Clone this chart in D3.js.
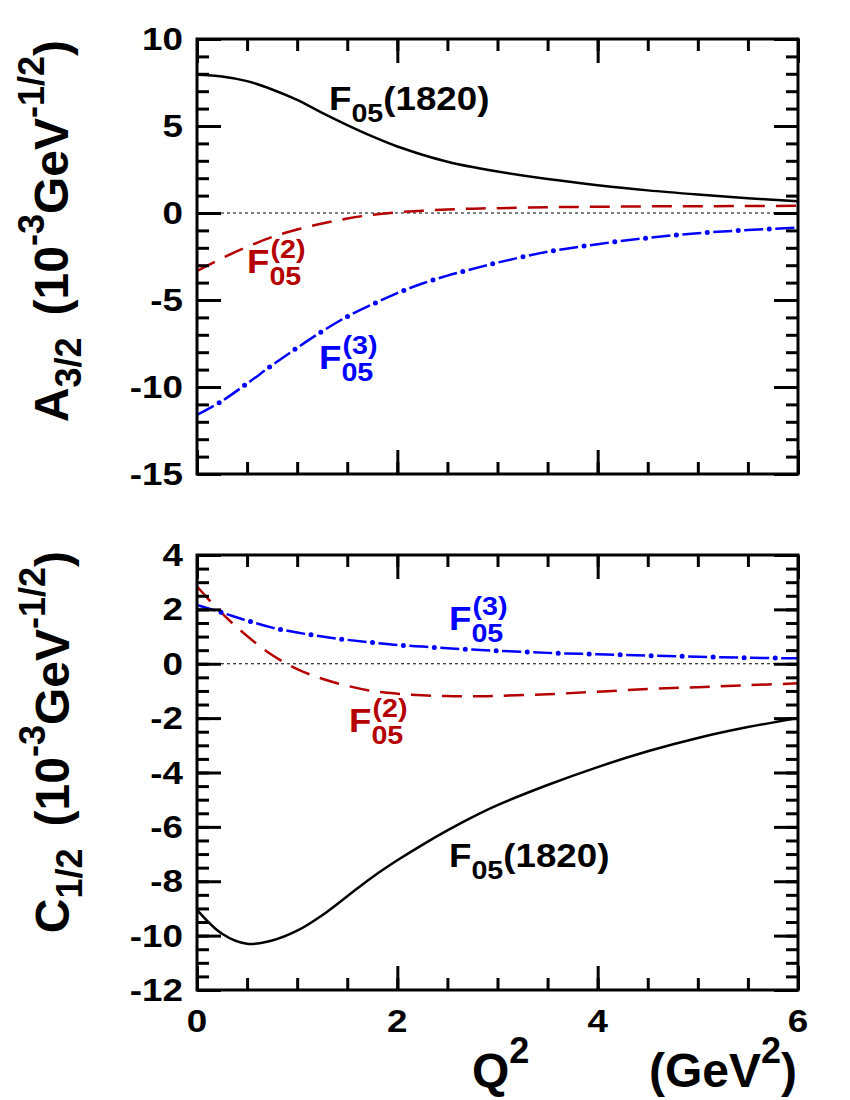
<!DOCTYPE html>
<html>
<head>
<meta charset="utf-8">
<script src="https://cdn.jsdelivr.net/npm/d3@7"></script>
<style>
  body { margin: 0; background: #fff; }
  svg { display: block; }
  text { font-family: "Liberation Sans", Arial, Helvetica, sans-serif; font-weight: bold; }
</style>
</head>
<body>
<svg id="vis" width="850" height="1100"></svg>
<script>
// Q^2 grid (GeV^2) the curves were read at
var q2 = [0, 0.25, 0.5, 0.75, 1, 1.25, 1.5, 1.75, 2, 2.25, 2.5, 2.75, 3, 3.5, 4, 4.5, 5, 5.5, 6];

// A_{3/2} panel (10^-3 GeV^-1/2)
var a32Full = [7.95, 7.85, 7.58, 7.1, 6.5, 5.75, 5.05, 4.4, 3.82, 3.35, 2.95, 2.64, 2.38, 1.95, 1.6, 1.3, 1.06, 0.85, 0.67];
var a32F2   = [-3.33, -2.6, -1.95, -1.38, -0.95, -0.6, -0.32, -0.1, 0.04, 0.13, 0.2, 0.25, 0.28, 0.33, 0.36, 0.38, 0.39, 0.40, 0.41];
var a32F3   = [-11.6, -10.8, -9.8, -8.75, -7.75, -6.8, -5.95, -5.25, -4.6, -4.05, -3.6, -3.22, -2.85, -2.23, -1.79, -1.43, -1.16, -0.98, -0.84];

// C_{1/2} panel (10^-3 GeV^-1/2)
var c12Full = [-9.05, -9.93, -10.3, -10.18, -9.82, -9.25, -8.55, -7.85, -7.23, -6.66, -6.13, -5.64, -5.2, -4.46, -3.8, -3.22, -2.73, -2.33, -2.0];
var c12F2   = [2.84, 1.85, 1.02, 0.32, -0.2, -0.55, -0.81, -1.0, -1.1, -1.16, -1.19, -1.2, -1.18, -1.12, -1.03, -0.93, -0.86, -0.79, -0.72];
var c12F3   = [2.16, 1.88, 1.59, 1.33, 1.15, 1.0, 0.88, 0.78, 0.69, 0.63, 0.57, 0.52, 0.48, 0.40, 0.35, 0.30, 0.26, 0.22, 0.20];

// axis ticks
var xMajor = [0, 2, 4, 6];
var xMinor = d3.range(0, 6.01, 0.5);
var a32Major = [-15, -10, -5, 0, 5, 10];
var a32Minor = d3.range(-15, 10.01, 1);
var c12Major = [-12, -10, -8, -6, -4, -2, 0, 2, 4];
var c12Minor = d3.range(-12, 4.01, 0.5);

var RED = '#b40000', BLUE = '#0000ff';

var vis = d3.select('#vis');
var left = 197, right = 798;
var x = d3.scaleLinear().domain([0, 6]).range([left, right]);

// rich text: parts = [{t, sub|sup}], drawn in a horizontally scaled local frame
function rich(parent, tx, ty, parts, size, fill, anchor, rot, sx) {
  var t = parent.append('text')
    .attr('transform', 'translate(' + tx + ',' + ty + ')' + (rot ? ' rotate(' + rot + ')' : '') + ' scale(' + (sx || 1) + ',1)')
    .attr('font-size', size).attr('fill', fill).attr('text-anchor', anchor || 'start');
  var shift = 0;
  parts.forEach(function(p) {
    var want = p.sub ? 0.28 * size : p.sup ? -0.5 * size : 0;
    t.append('tspan').attr('dy', want - shift).attr('dx', p.dx || 0)
      .attr('font-size', (p.sub || p.sup) ? size * 0.75 : size).text(p.t);
    shift = want;
  });
  return t;
}

// F_05 label with stacked sub/superscript
function fLabel(parent, tx, ty, sup, tail, fill) {
  var size = 34, sx = 1.08;
  function piece(px, py, s, str) {
    return parent.append('text').attr('transform', 'translate(' + px + ',' + py + ') scale(' + sx + ',1)')
      .attr('font-size', s).attr('fill', fill).text(str);
  }
  var f = piece(tx, ty, size, 'F');
  var w = f.node().getComputedTextLength() * sx;
  var s = piece(tx + w, ty + 12, size * 0.78, '05');
  if (sup) piece(tx + w + 1, ty - 15, size * 0.78, sup);
  if (tail) piece(tx + w + s.node().getComputedTextLength() * sx, ty, size, tail);
}

function panel(top, bottom, domain, major, minor, series, showX) {
  var y = d3.scaleLinear().domain(domain).range([bottom, top]);
  var g = vis.append('g');

  // zero line
  g.append('line').attr('x1', left).attr('x2', right).attr('y1', y(0)).attr('y2', y(0))
    .attr('stroke', '#000').attr('stroke-width', 1).attr('stroke-dasharray', '3,3');

  // curves
  var line = d3.line().x(function(d) { return x(d[0]) }).y(function(d) { return y(d[1]) })
    .curve(d3.curveCatmullRom.alpha(0.5));
  series.forEach(function(s) {
    var pts = q2.map(function(q, i) { return [q, s.values[i]] });
    var p = g.append('path').attr('d', line(pts)).attr('fill', 'none')
      .attr('stroke', s.color).attr('stroke-width', 2.5);
    if (s.style === 'dash') p.attr('stroke-dasharray', '20,11');
    if (s.style === 'dashdot') {
      p.attr('stroke-dasharray', '19,12');
      g.append('path').attr('d', line(pts)).attr('fill', 'none')
        .attr('stroke', s.color).attr('stroke-width', 5).attr('stroke-linecap', 'round')
        .attr('stroke-dasharray', '0,31').attr('stroke-dashoffset', 6);
    }
  });

  // ticks on all four sides, pointing inwards
  function ticks(axis, vals, len, tr) {
    g.append('g').attr('transform', tr)
      .call(axis.tickValues(vals).tickSize(-len).tickFormat(''))
      .call(function(a) { a.select('.domain').remove() })
      .selectAll('line').attr('stroke', '#000').attr('stroke-width', 3);
  }
  ticks(d3.axisLeft(y), minor, 12, 'translate(' + left + ',0)');
  ticks(d3.axisLeft(y), major, 24, 'translate(' + left + ',0)');
  ticks(d3.axisRight(y), minor, 12, 'translate(' + right + ',0)');
  ticks(d3.axisRight(y), major, 24, 'translate(' + right + ',0)');
  ticks(d3.axisTop(x), xMinor, 12, 'translate(0,' + top + ')');
  ticks(d3.axisTop(x), xMajor, 24, 'translate(0,' + top + ')');
  ticks(d3.axisBottom(x), xMinor, 12, 'translate(0,' + bottom + ')');
  ticks(d3.axisBottom(x), xMajor, 24, 'translate(0,' + bottom + ')');

  // frame
  g.append('rect').attr('x', left).attr('y', top).attr('width', right - left).attr('height', bottom - top)
    .attr('fill', 'none').attr('stroke', '#000').attr('stroke-width', 3);

  // tick labels
  major.forEach(function(v) {
    rich(g, left - 14, y(v) + 11, [{t: String(v)}], 32, '#000', 'end', 0, 1.15);
  });
  if (showX) xMajor.forEach(function(v) {
    rich(g, x(v), bottom + 42, [{t: String(v)}], 32, '#000', 'middle', 0, 1.15);
  });
  return {g: g, y: y};
}

panel(39, 474, [-15, 10], a32Major, a32Minor, [
  {values: a32Full, color: '#000', style: 'solid'},
  {values: a32F2, color: RED, style: 'dash'},
  {values: a32F3, color: BLUE, style: 'dashdot'}
], false);

panel(555, 990, [-12, 4], c12Major, c12Minor, [
  {values: c12Full, color: '#000', style: 'solid'},
  {values: c12F2, color: RED, style: 'dash'},
  {values: c12F3, color: BLUE, style: 'dashdot'}
], true);

// curve labels
fLabel(vis, 329, 110, null, '(1820)', '#000');
fLabel(vis, 247, 273, '(2)', null, RED);
fLabel(vis, 319, 369, '(3)', null, BLUE);
fLabel(vis, 449, 630, '(3)', null, BLUE);
fLabel(vis, 349, 732, '(2)', null, RED);
fLabel(vis, 449, 867, null, '(1820)', '#000');

// axis titles
var unit = [{t: '(10', dx: 22}, {t: '-3', sup: true}, {t: 'GeV'}, {t: '-1/2', sup: true}, {t: ')'}];
rich(vis, 68, 40, [{t: 'A'}, {t: '3/2', sub: true}].concat(unit), 48, '#000', 'end', -90);
rich(vis, 69, 551, [{t: 'C'}, {t: '1/2', sub: true}].concat(unit), 48, '#000', 'end', -90);
rich(vis, 472, 1087, [{t: 'Q'}, {t: '2', sup: true}], 48, '#000', 'start');
rich(vis, 797, 1087, [{t: '(GeV'}, {t: '2', sup: true}, {t: ')'}], 48, '#000', 'end');
</script>
</body>
</html>
